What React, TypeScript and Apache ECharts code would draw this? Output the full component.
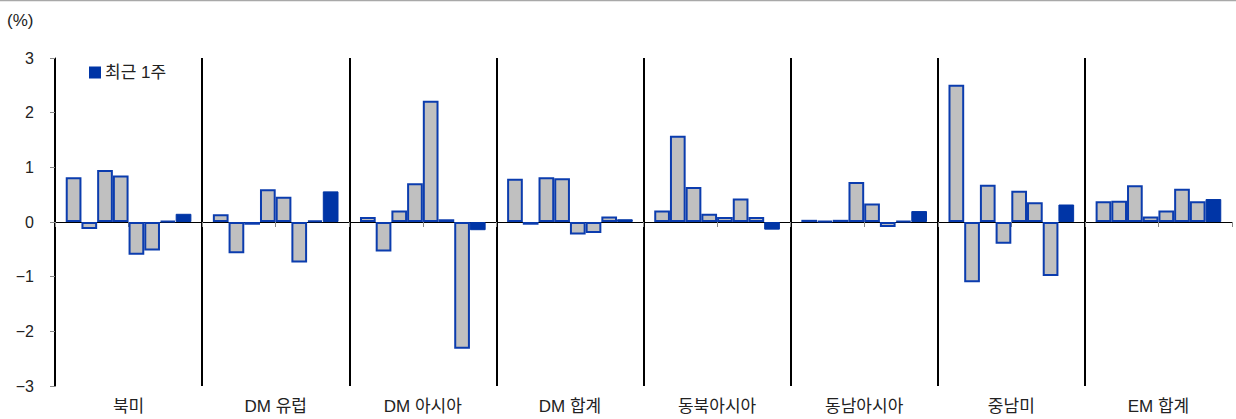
import React, { useEffect, useRef } from "react";
import * as echarts from "echarts";

const regions = ["북미", "DM 유럽", "DM 아시아", "DM 합계", "동북아시아", "동남아시아", "중남미", "EM 합계"];
const halfTicks = ["", "", "", "", "", "", "", "", "", "", "", "", "", "", "", ""];
const yTicks = [-3, -2, -1, 0, 1, 2, 3];

const period1 = [0.82, 0.14, 0.09, 0.79, 0.21, 0.04, 2.51, 0.38];
const period2 = [-0.13, -0.57, -0.54, -0.05, 1.58, 0.02, -1.1, 0.39];
const period3 = [0.95, -0.05, 0.21, 0.82, 0.64, 0.04, 0.68, 0.67];
const period4 = [0.85, 0.6, 0.71, 0.8, 0.15, 0.73, -0.4, 0.1];
const period5 = [-0.6, 0.46, 2.22, -0.23, 0.09, 0.34, 0.57, 0.21];
const period6 = [-0.52, -0.74, 0.05, -0.2, 0.43, -0.09, 0.36, 0.61];
const period7 = [0.02, 0.03, -2.32, 0.1, 0.09, 0.02, -0.99, 0.38];
const recentWeek = [0.15, 0.56, -0.15, 0.05, -0.14, 0.2, 0.32, 0.42];

const grayPeriods = [period1, period2, period3, period4, period5, period6, period7];
const recentName = "최근 1주";

const BLUE = "#0035a6";
const BORDER = "#0b3cae";
const GRAY = "#c0c0c0";
const FONT = "'Liberation Sans', 'Noto Sans CJK KR', sans-serif";

export default function App() {
  const ref = useRef<HTMLDivElement>(null);
  useEffect(() => {
    if (!ref.current) return;
    const chart = echarts.init(ref.current, null, { renderer: "svg" });
    const graySeries = grayPeriods.map((d, i) => ({
      name: "기간 " + (i + 1),
      type: "bar",
      xAxisIndex: 1,
      data: d,
      barGap: "0%",
      barCategoryGap: "14.6%",
      itemStyle: { color: GRAY, borderColor: BORDER, borderWidth: 2 },
    }));
    chart.setOption({
      animation: false,
      textStyle: { fontFamily: FONT },
      title: {
        text: "(%)",
        left: 7,
        top: 12,
        padding: 0,
        textStyle: { fontSize: 17, fontWeight: "normal", color: "#222", fontFamily: FONT },
      },
      legend: {
        data: [recentName],
        left: 89,
        top: 64,
        padding: 0,
        icon: "rect",
        itemWidth: 10,
        itemHeight: 10,
        textStyle: { fontSize: 17, color: "#222", fontFamily: FONT },
      },
      graphic: [
        {
          type: "line",
          shape: { x1: 0, y1: 0.5, x2: 1236, y2: 0.5 },
          style: { stroke: "#a8a8a8", lineWidth: 1.5 },
        },
      ],
      grid: { left: 55, right: 4, top: 58, bottom: 33 },
      xAxis: [
        {
          type: "category",
          data: halfTicks,
          axisLine: { show: true, onZero: true, lineStyle: { color: "#000", width: 1 } },
          axisTick: { show: true, length: 5, lineStyle: { color: "#888" } },
          axisLabel: { show: false },
          splitLine: { show: false },
        },
        {
          type: "category",
          data: regions,
          position: "bottom",
          axisLine: { show: false, onZero: false },
          axisTick: { show: false },
          axisLabel: { show: true, fontSize: 17, color: "#222", margin: 12, fontFamily: FONT },
          splitLine: {
            show: true,
            lineStyle: {
              color: ["#000", "#000", "#000", "#000", "#000", "#000", "#000", "#000", "rgba(0,0,0,0)"],
              width: 2,
            },
          },
        },
      ],
      yAxis: {
        type: "value",
        min: yTicks[0],
        max: yTicks[yTicks.length - 1],
        interval: 1,
        axisLine: { show: true, lineStyle: { color: "#000", width: 1 } },
        axisTick: { show: true, length: 5, lineStyle: { color: "#888" } },
        splitLine: { show: false },
        axisLabel: {
          fontSize: 16,
          color: "#222",
          margin: 21,
          fontFamily: FONT,
          formatter: (v: number) => String(v).replace("-", "\u2212"),
        },
      },
      series: [
        ...graySeries,
        {
          name: recentName,
          type: "bar",
          xAxisIndex: 1,
          data: recentWeek,
          barGap: "0%",
          barCategoryGap: "14.6%",
          itemStyle: { color: BLUE, borderColor: BLUE, borderWidth: 1 },
        },
      ],
    });
    return () => chart.dispose();
  }, []);
  return (
    <div
      ref={ref}
      style={{ position: "absolute", left: 0, top: 0, width: 1236, height: 419, background: "#fff" }}
    />
  );
}
